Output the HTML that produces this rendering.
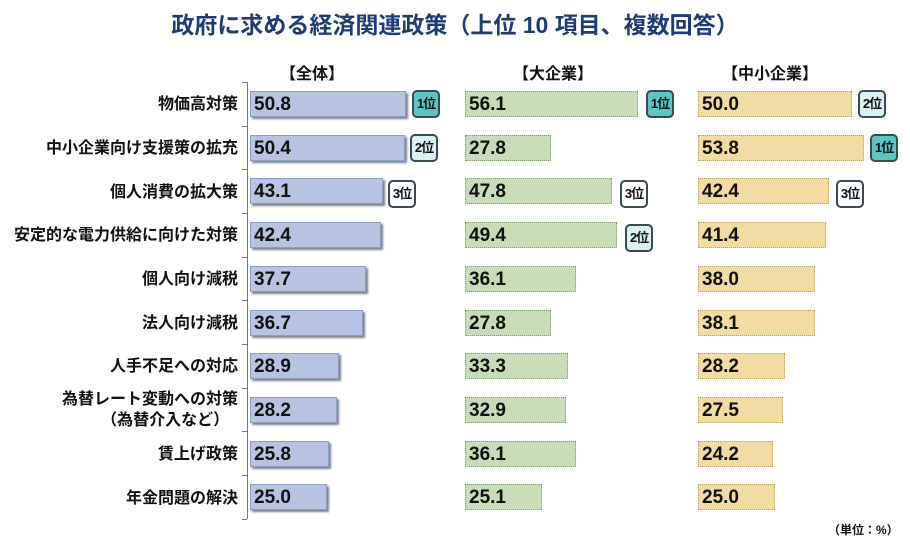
<!DOCTYPE html>
<html><head><meta charset="utf-8"><style>
body{margin:0;width:910px;height:543px;background:#fff;position:relative;overflow:hidden;font-family:"Liberation Sans","Noto Sans CJK JP",sans-serif}
.t{position:absolute;left:0;width:910px;top:6px;text-align:center;font-size:23px;font-weight:bold;color:#1f3b73}
.h{position:absolute;top:60px;font-size:16px;font-weight:bold;color:#111;width:160px;text-align:center}
.l{position:absolute;right:672px;font-size:16px;font-weight:bold;color:#111;text-align:right;line-height:21px;white-space:nowrap}
.b{position:absolute;height:26px;box-sizing:border-box;font-size:19px;font-weight:bold;color:#111;line-height:26px;padding-left:3px}
.a{left:250px;background:#b8c3e2;border:1px solid #8e9cc6;box-shadow:2px 2px 2px #7a7f8a}
.g{left:465px;background:#c9dcb8;border:1px dotted #7fa06a}
.y{left:698px;background:#f1dca2;border:1px dotted #b9a060}
.k{position:absolute;width:28px;height:28px;box-sizing:border-box;border:2px solid #3a4a52;border-radius:5px;font-size:13px;font-weight:bold;text-align:center;line-height:24px;color:#111;letter-spacing:-1px}
.r1{background:#5cc6c6}.r2{background:#dcf2f2}.r3{background:#fff}
.ax{position:absolute;left:247px;top:82px;width:1px;height:437px;background:#777}
.tk{position:absolute;left:242px;width:5px;height:1px;background:#777}
</style></head><body>
<div class="t">政府に求める経済関連政策（上位 10 項目、複数回答）</div>
<div class="h" style="left:232px">【全体】</div>
<div class="h" style="left:473px">【大企業】</div>
<div class="h" style="left:690px">【中小企業】</div>
<div class="ax"></div>
<div class="tk" style="top:82px"></div><div class="tk" style="top:126px"></div><div class="tk" style="top:169px"></div><div class="tk" style="top:213px"></div><div class="tk" style="top:257px"></div><div class="tk" style="top:300px"></div><div class="tk" style="top:344px"></div><div class="tk" style="top:388px"></div><div class="tk" style="top:431px"></div><div class="tk" style="top:475px"></div><div class="tk" style="top:519px"></div>

<div class="l" style="top:94px">物価高対策</div>
<div class="l" style="top:138px">中小企業向け支援策の拡充</div>
<div class="l" style="top:182px">個人消費の拡大策</div>
<div class="l" style="top:225px">安定的な電力供給に向けた対策</div>
<div class="l" style="top:269px">個人向け減税</div>
<div class="l" style="top:313px">法人向け減税</div>
<div class="l" style="top:356px">人手不足への対応</div>
<div class="l" style="top:389px">為替レート変動への対策<br>（為替介入など）&nbsp;&nbsp;</div>
<div class="l" style="top:444px">賃上げ政策</div>
<div class="l" style="top:488px">年金問題の解決</div>

<div class="b a" style="top:91px;width:156px">50.8</div>
<div class="b a" style="top:135px;width:155px">50.4</div>
<div class="b a" style="top:178px;width:133px">43.1</div>
<div class="b a" style="top:222px;width:131px">42.4</div>
<div class="b a" style="top:266px;width:116px">37.7</div>
<div class="b a" style="top:310px;width:113px">36.7</div>
<div class="b a" style="top:353px;width:89px">28.9</div>
<div class="b a" style="top:397px;width:87px">28.2</div>
<div class="b a" style="top:441px;width:79px">25.8</div>
<div class="b a" style="top:484px;width:77px">25.0</div>
<div class="k r1" style="left:412px;top:90px">1位</div>
<div class="k r2" style="left:410px;top:134px">2位</div>
<div class="k r3" style="left:388px;top:180px">3位</div>

<div class="b g" style="top:91px;width:173px">56.1</div>
<div class="b g" style="top:135px;width:86px">27.8</div>
<div class="b g" style="top:178px;width:147px">47.8</div>
<div class="b g" style="top:222px;width:152px">49.4</div>
<div class="b g" style="top:266px;width:111px">36.1</div>
<div class="b g" style="top:310px;width:86px">27.8</div>
<div class="b g" style="top:353px;width:103px">33.3</div>
<div class="b g" style="top:397px;width:101px">32.9</div>
<div class="b g" style="top:441px;width:111px">36.1</div>
<div class="b g" style="top:484px;width:77px">25.1</div>
<div class="k r1" style="left:646px;top:90px">1位</div>
<div class="k r3" style="left:620px;top:180px">3位</div>
<div class="k r2" style="left:625px;top:224px">2位</div>

<div class="b y" style="top:91px;width:154px">50.0</div>
<div class="b y" style="top:135px;width:166px">53.8</div>
<div class="b y" style="top:178px;width:131px">42.4</div>
<div class="b y" style="top:222px;width:128px">41.4</div>
<div class="b y" style="top:266px;width:117px">38.0</div>
<div class="b y" style="top:310px;width:117px">38.1</div>
<div class="b y" style="top:353px;width:87px">28.2</div>
<div class="b y" style="top:397px;width:85px">27.5</div>
<div class="b y" style="top:441px;width:75px">24.2</div>
<div class="b y" style="top:484px;width:77px">25.0</div>
<div class="k r2" style="left:858px;top:90px">2位</div>
<div class="k r1" style="left:870px;top:134px">1位</div>
<div class="k r3" style="left:836px;top:180px">3位</div>

<div style="position:absolute;left:828px;top:521px;font-size:12px;color:#111;font-weight:bold">（単位：%）</div>
</body></html>
